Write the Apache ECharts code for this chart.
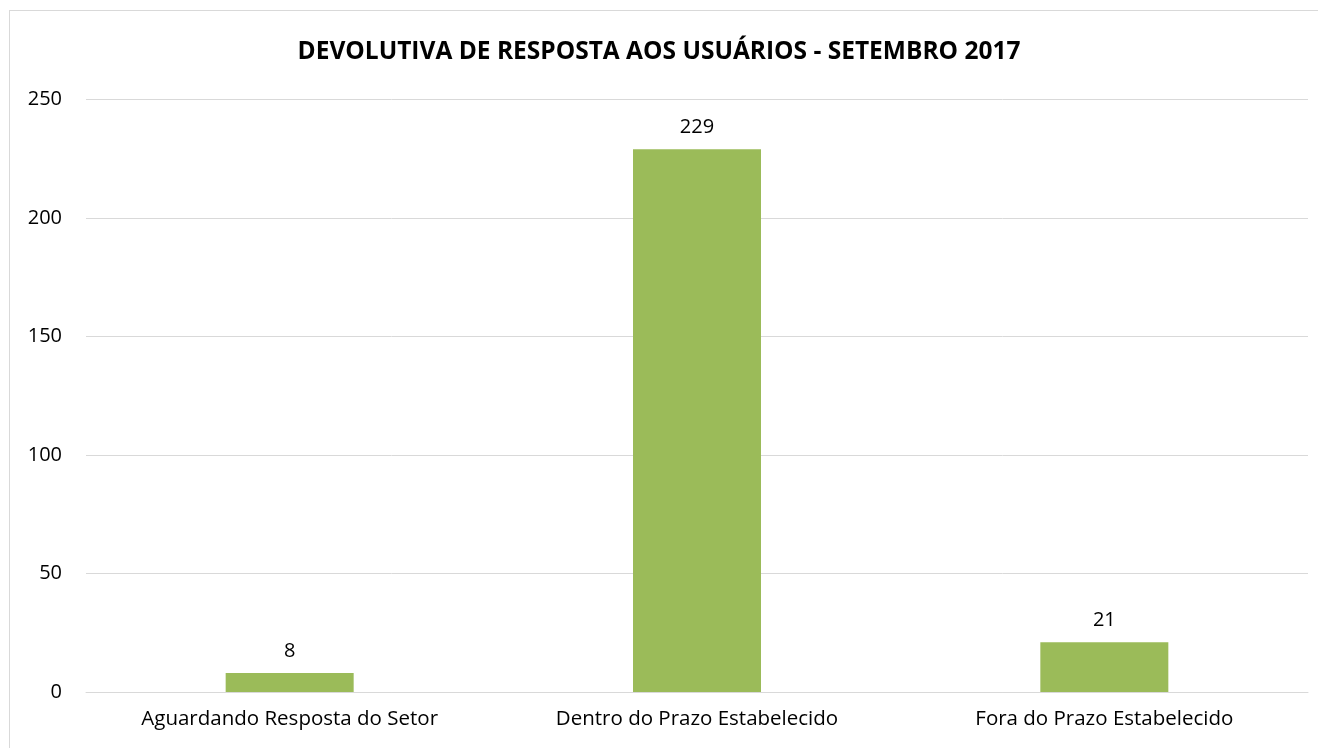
<!DOCTYPE html>
<html>
<head>
<meta charset="utf-8">
<title>Devolutiva de resposta</title>
<style>
  html, body { margin: 0; padding: 0; background: #fff; }
  #frame { position: absolute; left: 9px; top: 10px; width: 1400px; height: 800px; border: 1px solid #d9d9d9; box-sizing: border-box; }
  #main { position: absolute; left: 0; top: 0; width: 1318px; height: 748px; }
</style>
</head>
<body>
<div id="frame"></div>
<div id="main"></div>
<script src="https://cdn.jsdelivr.net/npm/echarts@6/dist/echarts.min.js"></script>
<script>
    var categories = ['Aguardando Resposta do Setor', 'Dentro do Prazo Estabelecido', 'Fora do Prazo Estabelecido'];
    var values = [8, 229, 21];
    var yTicks = [0, 50, 100, 150, 200, 250];

    var font = '"Open Sans", "Liberation Sans", sans-serif';
    var myChart = echarts.init(document.getElementById('main'));
    myChart.setOption({
        animation: false,
        title: {
            text: 'DEVOLUTIVA DE RESPOSTA AOS USUÁRIOS - SETEMBRO 2017',
            left: 'center',
            top: 35,
            textStyle: { fontFamily: font, fontSize: 24.5, fontWeight: 'bold', color: '#000' }
        },
        grid: { left: 86, right: 10, top: 99.5, bottom: 56, containLabel: false },
        xAxis: {
            type: 'category',
            data: categories,
            axisLine: { lineStyle: { color: '#d9d9d9', width: 1 } },
            axisTick: { show: false },
            axisLabel: { fontFamily: font, fontSize: 20.5, color: '#000', margin: 17 }
        },
        yAxis: {
            type: 'value',
            min: yTicks[0],
            max: yTicks[yTicks.length - 1],
            interval: 50,
            axisLine: { show: false },
            axisTick: { show: false },
            splitLine: { lineStyle: { color: '#d9d9d9', width: 1 } },
            axisLabel: { fontFamily: font, fontSize: 20, color: '#000', margin: 24 }
        },
        series: [{
            type: 'bar',
            data: values,
            barWidth: 128,
            itemStyle: { color: '#9bbb59' },
            label: {
                show: true,
                position: 'top',
                distance: 12,
                fontFamily: font,
                fontSize: 20,
                color: '#000'
            }
        }]
    });
</script>
</body>
</html>
